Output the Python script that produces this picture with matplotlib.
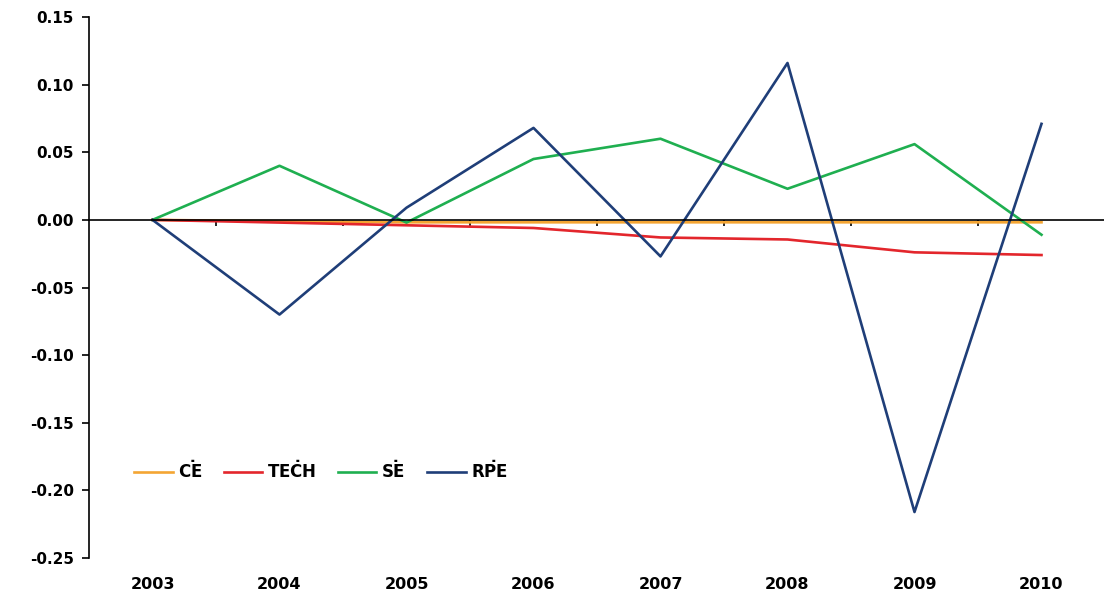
import matplotlib
matplotlib.use("Agg")
import matplotlib.pyplot as plt

years = ["2003", "2004", "2005", "2006", "2007", "2008", "2009", "2010"]
ce = [0.0, -0.001, -0.0018, -0.0018, -0.0018, -0.0018, -0.0018, -0.0018]
tech = [0.0, -0.002, -0.004, -0.006, -0.013, -0.0145, -0.024, -0.026]
se = [0.0, 0.040, -0.002, 0.045, 0.060, 0.023, 0.056, -0.011]
rpe = [0.0, -0.070, 0.009, 0.068, -0.027, 0.116, -0.216, 0.071]

series = [
    (r"$\mathbf{\dot{CE}}$", ce, "#F4A533"),
    (r"$\mathbf{\dot{TECH}}$", tech, "#E3262C"),
    (r"$\mathbf{\dot{SE}}$", se, "#1FAF50"),
    (r"$\mathbf{\dot{RPE}}$", rpe, "#1F3E78"),
]

plt.rcParams["font.family"] = "DejaVu Sans"
plt.rcParams["mathtext.fontset"] = "dejavusans"

fig = plt.figure(figsize=(11.04, 5.94), dpi=100)
ax = fig.add_axes([89 / 1104, 36 / 594, 1016 / 1104, 541 / 594])

x = list(range(len(years)))
for name, vals, col in series:
    ax.plot(x, vals, color=col, lw=1.9, label=name, zorder=3)

ax.set_xlim(-0.5, len(years) - 0.5)
ax.set_ylim(-0.25, 0.15)
ax.set_yticks([0.15, 0.10, 0.05, 0.00, -0.05, -0.10, -0.15, -0.20, -0.25])
ax.set_yticklabels([f"{v:.2f}" for v in ax.get_yticks()],
                   fontsize=11, fontweight="bold")
ax.tick_params(axis="y", direction="out", length=5, width=1.2, pad=6)

# category axis sits on y = 0, tick marks between categories
for s in ["top", "right"]:
    ax.spines[s].set_visible(False)
ax.spines["left"].set_linewidth(1.2)
ax.spines["bottom"].set_position(("data", 0))
ax.spines["bottom"].set_linewidth(1.2)
ax.spines["bottom"].set_zorder(4)
ax.set_xticks([i + 0.5 for i in x[:-1]])
ax.set_xticklabels([])
ax.tick_params(axis="x", direction="out", length=4, width=1.2)

sec = ax.secondary_xaxis(0.0)
sec.set_xticks(x)
sec.set_xticklabels(years, fontsize=11.5, fontweight="bold")
sec.tick_params(length=0, pad=14)
sec.spines["bottom"].set_visible(False)

ax.legend(loc="center left", bbox_to_anchor=(0.03, 0.16), ncol=4,
          frameon=False, fontsize=12, handlelength=2.3, handletextpad=0.3,
          columnspacing=1.3)

fig.savefig("out.png", dpi=100)
